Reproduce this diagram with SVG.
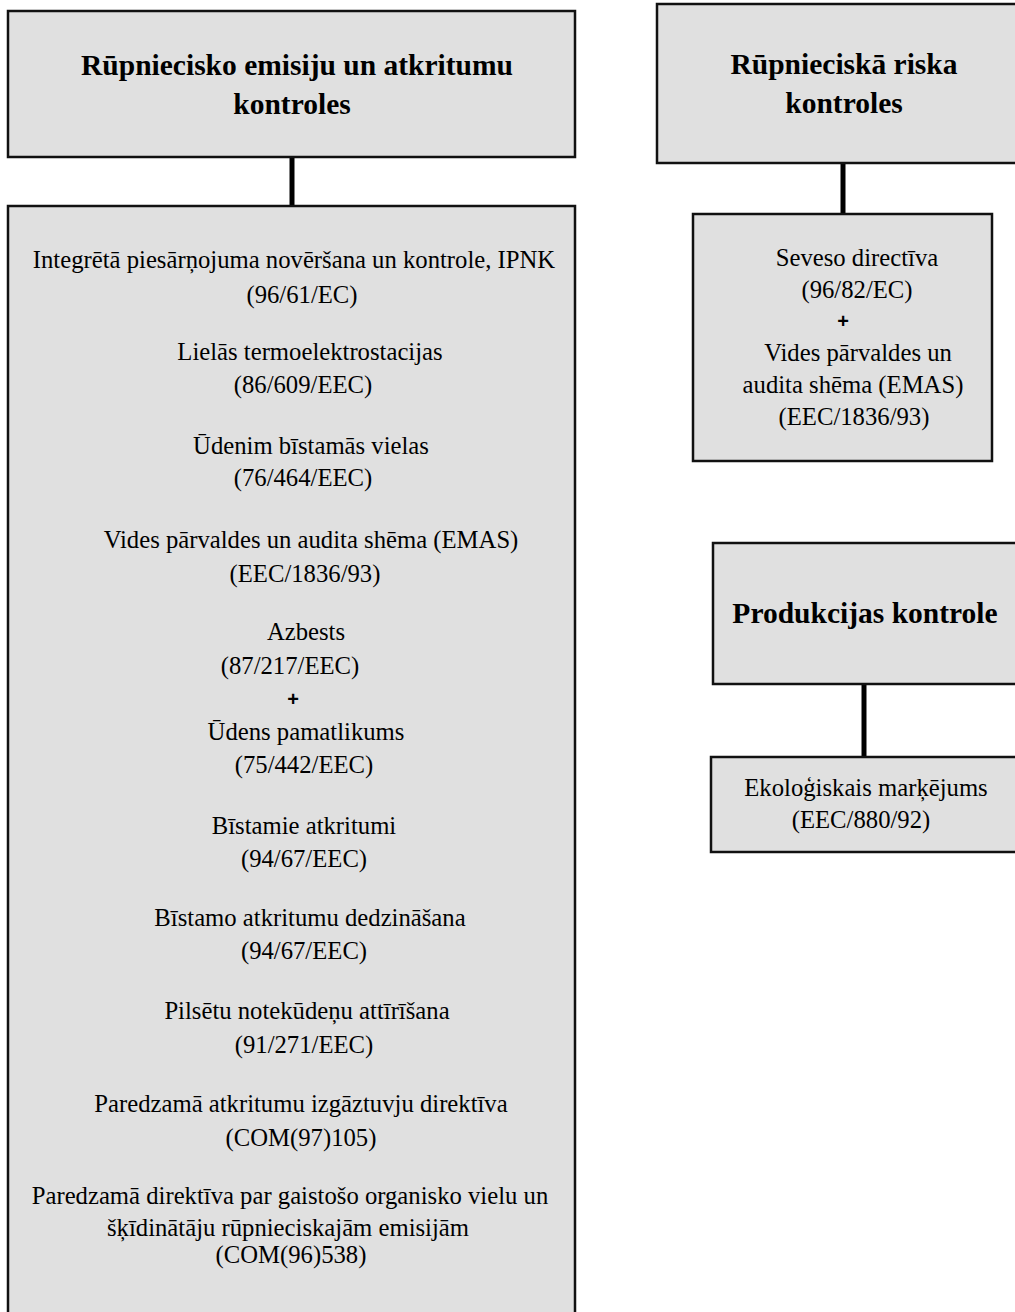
<svg xmlns="http://www.w3.org/2000/svg" width="1015" height="1312" viewBox="0 0 1015 1312">
  <style>
    .box { fill: #e0e0e0; stroke: #111; stroke-width: 2.5; }
    .link { stroke: #000; stroke-width: 5; fill: none; }
    .title { font-family: "Liberation Serif", "Times New Roman", serif; font-weight: bold; font-size: 29.5px; fill: #000; text-anchor: middle; }
    .item { font-family: "Liberation Serif", "Times New Roman", serif; font-size: 24.7px; fill: #000; text-anchor: middle; }
    .plus { font-family: "Liberation Sans", Arial, sans-serif; font-weight: bold; font-size: 20px; fill: #000; text-anchor: middle; }
  </style>

  <!-- connectors -->
  <g id="connectors">
    <line class="link" x1="292" y1="157" x2="292" y2="206"/>
    <line class="link" x1="843" y1="163" x2="843" y2="214"/>
    <line class="link" x1="864" y1="684" x2="864" y2="757"/>
  </g>

  <!-- industrial emissions and waste controls -->
  <g id="emisijas">
    <rect class="box" x="8" y="11" width="567" height="146"/>
    <text class="title" x="297" y="75">Rūpniecisko emisiju un atkritumu</text>
    <text class="title" x="292" y="114">kontroles</text>
  </g>

  <g id="emisijas-direktivas">
    <rect class="box" x="8" y="206" width="567" height="1120"/>
    <text class="item" x="294" y="268">Integrētā piesārņojuma novēršana un kontrole, IPNK</text>
    <text class="item" x="302" y="303">(96/61/EC)</text>
    <text class="item" x="310" y="360">Lielās termoelektrostacijas</text>
    <text class="item" x="303" y="393">(86/609/EEC)</text>
    <text class="item" x="311" y="454">Ūdenim bīstamās vielas</text>
    <text class="item" x="303" y="486">(76/464/EEC)</text>
    <text class="item" x="311" y="548">Vides pārvaldes un audita shēma (EMAS)</text>
    <text class="item" x="305" y="582">(EEC/1836/93)</text>
    <text class="item" x="306" y="640">Azbests</text>
    <text class="item" x="290" y="674">(87/217/EEC)</text>
    <text class="plus" x="293" y="706">+</text>
    <text class="item" x="306" y="740">Ūdens pamatlikums</text>
    <text class="item" x="304" y="773">(75/442/EEC)</text>
    <text class="item" x="304" y="834">Bīstamie atkritumi</text>
    <text class="item" x="304" y="867">(94/67/EEC)</text>
    <text class="item" x="310" y="926">Bīstamo atkritumu dedzināšana</text>
    <text class="item" x="304" y="959">(94/67/EEC)</text>
    <text class="item" x="307" y="1019">Pilsētu notekūdeņu attīrīšana</text>
    <text class="item" x="304" y="1053">(91/271/EEC)</text>
    <text class="item" x="301" y="1112">Paredzamā atkritumu izgāztuvju direktīva</text>
    <text class="item" x="301" y="1146">(COM(97)105)</text>
    <text class="item" x="290" y="1204">Paredzamā direktīva par gaistošo organisko vielu un</text>
    <text class="item" x="288" y="1236">šķīdinātāju rūpnieciskajām emisijām</text>
    <text class="item" x="291" y="1263">(COM(96)538)</text>
  </g>

  <!-- industrial risk controls -->
  <g id="riska">
    <rect class="box" x="657" y="4" width="370" height="159"/>
    <text class="title" x="844" y="74">Rūpnieciskā riska</text>
    <text class="title" x="844" y="113">kontroles</text>
  </g>

  <g id="riska-direktivas">
    <rect class="box" x="693" y="214" width="299" height="247"/>
    <text class="item" x="857" y="266">Seveso directīva</text>
    <text class="item" x="857" y="298">(96/82/EC)</text>
    <text class="plus" x="843" y="328">+</text>
    <text class="item" x="858" y="361">Vides pārvaldes un</text>
    <text class="item" x="853" y="393">audita shēma (EMAS)</text>
    <text class="item" x="854" y="425">(EEC/1836/93)</text>
  </g>

  <!-- product controls -->
  <g id="produkcija">
    <rect class="box" x="713" y="543" width="320" height="141"/>
    <text class="title" x="865" y="623">Produkcijas kontrole</text>
  </g>

  <g id="markejums">
    <rect class="box" x="711" y="757" width="320" height="95"/>
    <text class="item" x="866" y="796">Ekoloģiskais marķējums</text>
    <text class="item" x="861" y="828">(EEC/880/92)</text>
  </g>
</svg>
